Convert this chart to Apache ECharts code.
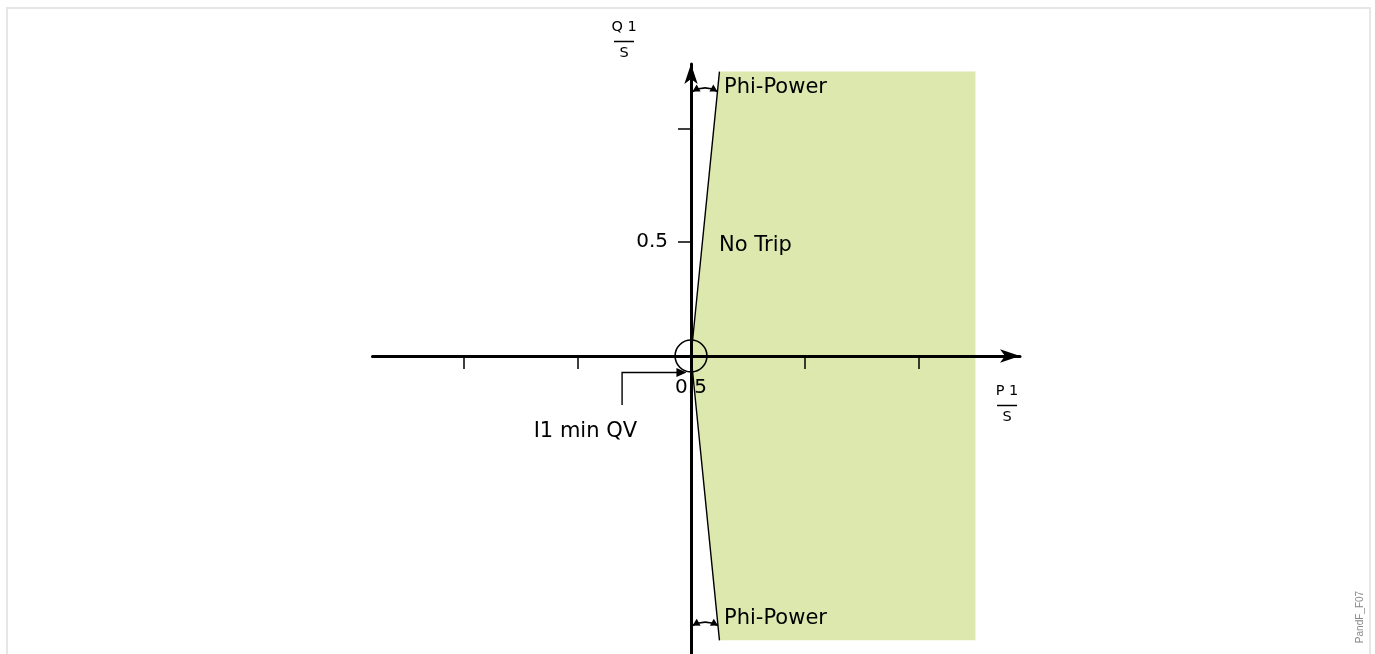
<!DOCTYPE html>
<html>
<head>
<meta charset="utf-8">
<script src="https://cdn.jsdelivr.net/npm/echarts@6/dist/echarts.min.js"></script>
<style>
html,body{margin:0;padding:0;background:#fff;}
#c{width:1375px;height:654px;}
</style>
</head>
<body>
<div id="c"></div>
<script>
// ---- data ----
const xTicks = [-1, -0.5, 0.5, 1];
const yTicks = [0.5, 1];
const yTickLabelValue = 0.5;
const yTickLabelText = '0.5';
const tripZone = [[0, 0], [0.125, 1.25], [1.25, 1.25], [1.25, -1.25], [0.125, -1.25]];
const phiBoundary = [[0.125, 1.25], [0, 0], [0.125, -1.25]];
const minCurrentRadius = 0.07;
const phiArcLevels = [1.163, -1.185];
const i1Pointer = [[-0.303, -0.215], [-0.303, -0.0725], [-0.02, -0.0725]];
const noteTexts = ['Phi-Power', 'No Trip', 'Phi-Power', 'I1 min QV', '0.5'];
const axisNames = { q: 'Q 1', p: 'P 1', s: 'S' };
const figureId = 'PandF_F07';

const FONT = 'DejaVu Sans';
const phiSlope = phiBoundary[0][0] / phiBoundary[0][1];

const chart = echarts.init(document.getElementById('c'));

function arrowHead(tip, dirVec, L, W) {
  const n = [-dirVec[1], dirVec[0]];
  return {
    type: 'polygon',
    shape: { points: [
      tip,
      [tip[0] - dirVec[0] * L + n[0] * W, tip[1] - dirVec[1] * L + n[1] * W],
      [tip[0] - dirVec[0] * L - n[0] * W, tip[1] - dirVec[1] * L - n[1] * W]
    ] },
    style: { fill: '#000' }
  };
}
function unit(v) { const l = Math.hypot(v[0], v[1]); return [v[0] / l, v[1] / l]; }

function fraction(top) {
  return '{n|' + top + '}\n{hr|}\n{d|' + axisNames.s + '}';
}
const fracRich = {
  n: { fontFamily: FONT, fontSize: 14.5, lineHeight: 29, color: '#000', align: 'center' },
  hr: { borderColor: '#000', borderWidth: 1.5, width: 20, height: 0, align: 'center' },
  d: { fontFamily: FONT, fontSize: 14.5, lineHeight: 23, color: '#000', align: 'center' }
};
function note(text, pos, extra) {
  return Object.assign({ formatter: text, position: pos, distance: 0, color: '#000', opacity: 1, fontFamily: FONT, fontSize: 21 }, extra || {});
}

const option = {
  animation: false,
  backgroundColor: '#fff',
  grid: { left: 372.5, right: 355, top: 64, bottom: 0, containLabel: false, outerBoundsMode: 'none' },
  xAxis: {
    type: 'value', min: -1.4, max: 1.446, z: 5,
    splitLine: { show: false },
    axisLine: { onZero: true, symbol: ['none', 'arrow'], symbolSize: [10, 20], lineStyle: { color: '#000', width: 3 } },
    axisTick: { show: true, customValues: xTicks, length: 13, lineStyle: { color: '#000', width: 1.5 } },
    axisLabel: { show: false }
  },
  yAxis: {
    type: 'value', min: -1.31, max: 1.2835, z: 5,
    splitLine: { show: false },
    axisLine: { onZero: true, symbol: ['none', 'arrow'], symbolSize: [10, 20], lineStyle: { color: '#000', width: 3 } },
    axisTick: { show: true, customValues: yTicks, length: 13, lineStyle: { color: '#000', width: 1.5 } },
    axisLabel: { show: false }
  },
  graphic: [
    { type: 'rect', silent: true, shape: { x: 7, y: 8, width: 1363, height: 700 },
      style: { fill: 'none', stroke: '#e6e6e6', lineWidth: 2 } },
    { type: 'text', silent: true, x: 1360, y: 617, rotation: Math.PI / 2,
      style: { text: figureId, fill: '#888', font: '10px "Liberation Sans"', align: 'center', verticalAlign: 'middle' } }
  ],
  series: [
    {
      type: 'custom', z: 1, clip: false, silent: true,
      data: [[0, 0]],
      renderItem: (params, api) => ({
        type: 'polygon',
        shape: { points: tripZone.map(p => api.coord(p)) },
        style: { fill: '#dde8ae' }
      })
    },
    {
      type: 'line', z: 6, clip: false, silent: true, showSymbol: false, symbol: 'none',
      data: phiBoundary,
      lineStyle: { color: '#000', width: 1.4 }
    },
    {
      type: 'custom', z: 7, clip: false, silent: true,
      data: [[0, 0]],
      renderItem: (params, api) => {
        const o = api.coord([0, 0]);
        const sx = api.size([1, 0])[0];
        const children = [];
        children.push({ type: 'circle', shape: { cx: o[0], cy: o[1], r: minCurrentRadius * sx },
          style: { fill: 'none', stroke: '#000', lineWidth: 1.6 } });
        phiArcLevels.forEach(lv => {
          const a = api.coord([0, lv]);
          const b = api.coord([Math.abs(lv) * phiSlope, lv]);
          a[0] += 1.5;
          const cp = [(a[0] + b[0]) / 2, a[1] - 7];
          children.push({ type: 'bezierCurve', shape: { x1: a[0], y1: a[1], x2: b[0], y2: b[1], cpx1: cp[0], cpy1: cp[1] },
            style: { fill: 'none', stroke: '#000', lineWidth: 1.7 } });
          children.push(arrowHead(a, unit([a[0] - cp[0], a[1] - cp[1]]), 7, 4));
          children.push(arrowHead(b, unit([b[0] - cp[0], b[1] - cp[1]]), 7, 4));
        });
        const pts = i1Pointer.map(p => api.coord(p));
        const last = pts[pts.length - 1], prev = pts[pts.length - 2];
        const dv = unit([last[0] - prev[0], last[1] - prev[1]]);
        const linePts = pts.slice(0, -1).concat([[last[0] - dv[0] * 6, last[1] - dv[1] * 6]]);
        children.push({ type: 'polyline', shape: { points: linePts }, style: { fill: 'none', stroke: '#000', lineWidth: 1.4 } });
        children.push(arrowHead(last, dv, 10, 4.5));
        return { type: 'group', children: children };
      }
    },
    {
      type: 'scatter', z: 8, clip: false, silent: true, symbolSize: 0.1,
      itemStyle: { color: 'rgba(0,0,0,0)', opacity: 1 },
      label: { show: true, color: '#000', fontFamily: FONT, fontSize: 21 },
      data: [
        { value: [0.145, 1.178], label: note(noteTexts[0], 'right') },
        { value: [0.123, 0.4835], label: note(noteTexts[1], 'right') },
        { value: [0.145, -1.156], label: note(noteTexts[2], 'right') },
        { value: [-0.237, -0.334], label: note(noteTexts[3], 'left') },
        { value: [0, -0.141], label: note(noteTexts[4], 'inside', { fontSize: 20 }) },
        { value: [-0.101, yTickLabelValue], label: note(yTickLabelText, 'left', { fontSize: 20 }) },
        { value: [-0.2945, 1.3956], label: { formatter: fraction(axisNames.q), position: 'inside', rich: fracRich, color: '#000' } },
        { value: [1.389, -0.2044], label: { formatter: fraction(axisNames.p), position: 'inside', rich: fracRich, color: '#000' } }
      ]
    }
  ]
};
chart.setOption(option);
</script>
</body>
</html>
